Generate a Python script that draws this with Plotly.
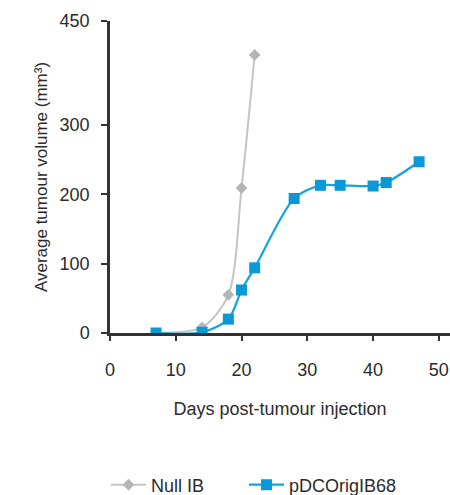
import plotly.graph_objects as go

# Data
null_days = [7, 14, 18, 20, 22]
null_vol = [0, 8, 55, 209, 401]

pdc_days = [7, 14, 18, 20, 22, 28, 32, 35, 40, 42, 47]
pdc_vol = [0, 1, 20, 62, 94, 194, 213, 213, 212, 217, 247]

x_ticks = [0, 10, 20, 30, 40, 50]
y_ticks = [0, 100, 200, 300, 450]

FONT = "Liberation Sans, Arial, sans-serif"
TXT = "#2b2b2b"
AX = "#333333"

fig = go.Figure()
fig.add_trace(go.Scatter(
    x=null_days, y=null_vol, name="Null IB", mode="lines+markers",
    line=dict(color="#c4c4c4", width=2, shape="spline", smoothing=0.8),
    marker=dict(symbol="diamond", size=9, color="#b4b4b4"),
    legend="legend",
))
fig.add_trace(go.Scatter(
    x=pdc_days, y=pdc_vol, name="pDCOrigIB68", mode="lines+markers",
    line=dict(color="#12a4de", width=2.2, shape="spline", smoothing=0.8),
    marker=dict(symbol="square", size=11, color="#0a98d6"),
    legend="legend2",
))

leg_common = dict(
    orientation="h", xref="container", xanchor="left",
    yref="container", y=(495 - 485) / 495, yanchor="middle",
    font=dict(size=18, color=TXT), itemwidth=35, bgcolor="rgba(0,0,0,0)",
)

fig.update_layout(
    width=450, height=495,
    margin=dict(l=110, r=0, t=21, b=162, autoexpand=False),
    paper_bgcolor="white", plot_bgcolor="white",
    font=dict(family=FONT, size=18, color=TXT),
    showlegend=True,
    legend=dict(x=106 / 450, **leg_common),
    legend2=dict(x=244 / 450, **leg_common),
    xaxis=dict(
        range=[0, 51.7], tickvals=x_ticks, ticktext=[str(v) for v in x_ticks],
        showgrid=False, zeroline=False, showline=True, linecolor=AX, linewidth=2.5,
        ticks="outside", ticklen=5, tickwidth=2, tickcolor=AX,
        tickfont=dict(size=18, color=TXT), ticklabelstandoff=14, automargin=False,
        title=dict(text="Days post-tumour injection", font=dict(size=18, color=TXT), standoff=24),
    ),
    yaxis=dict(
        range=[0, 450], tickvals=y_ticks, ticktext=[str(v) for v in y_ticks],
        showgrid=False, zeroline=False, showline=True, linecolor=AX, linewidth=2.5,
        ticks="outside", ticklen=6, tickwidth=2, tickcolor=AX,
        tickfont=dict(size=18, color=TXT), ticklabelstandoff=8, automargin=False,
        title=dict(text="Average tumour volume (mm³)", font=dict(size=17, color=TXT), standoff=8),
    ),
)

fig.write_html("out.html")
